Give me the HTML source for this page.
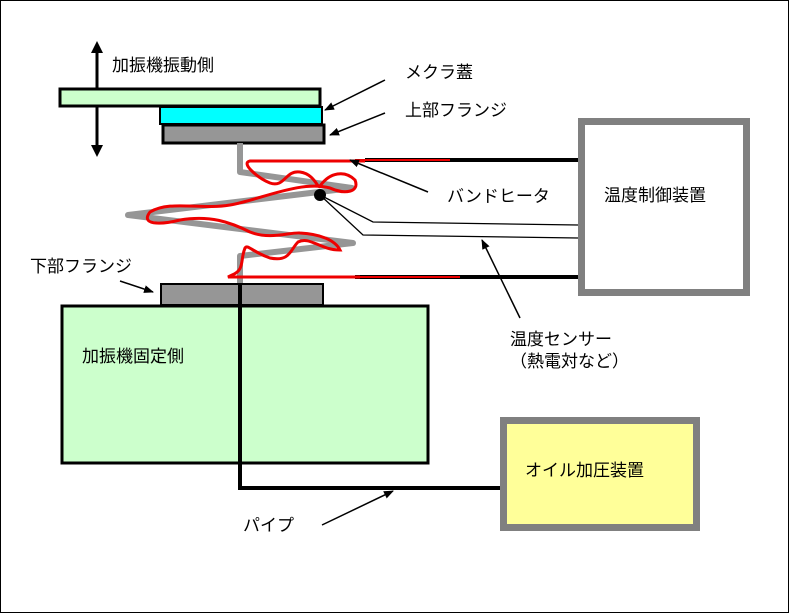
<!DOCTYPE html>
<html><head><meta charset="utf-8"><style>
html,body{margin:0;padding:0;background:#fff}
svg{display:block}
text{font-family:"Liberation Sans","Noto Sans CJK JP",sans-serif;font-size:17px;fill:#000}
</style></head><body>
<svg width="789" height="613" viewBox="0 0 789 613" xmlns="http://www.w3.org/2000/svg">
<defs><marker id="a" markerWidth="10" markerHeight="8" refX="9" refY="4" orient="auto" markerUnits="userSpaceOnUse"><path d="M0,0 L10,4 L0,8 z" fill="#000"/></marker></defs>
<rect x="0.5" y="0.5" width="788" height="612" fill="#fff" stroke="#000"/>
<line x1="97" y1="50" x2="97" y2="148" stroke="#000" stroke-width="3"/>
<path d="M97,41 L91,53 L103,53 z M97,157 L91,145 L103,145 z" fill="#000"/>
<text x="112" y="71">加振機振動側</text>
<rect x="60" y="89" width="260" height="17" fill="#ccffcc" stroke="#000" stroke-width="3"/>
<rect x="160" y="107" width="162" height="17" fill="#00ffff" stroke="#000" stroke-width="2"/>
<rect x="163" y="125" width="161" height="18" fill="#969696" stroke="#000" stroke-width="3"/>
<text x="405" y="78">メクラ蓋</text>
<line x1="385" y1="80" x2="325" y2="110" stroke="#000" stroke-width="1.5" marker-end="url(#a)"/>
<text x="405" y="116">上部フランジ</text>
<line x1="385" y1="113" x2="330" y2="135" stroke="#000" stroke-width="1.5" marker-end="url(#a)"/>
<polyline points="240,143 240,172 352,188 128,215 353,243 240,256 240,285" fill="none" stroke="#969696" stroke-width="6" stroke-linejoin="round"/>
<line x1="365" y1="160" x2="578" y2="160" stroke="#000" stroke-width="4"/>
<line x1="355" y1="277" x2="578" y2="277" stroke="#000" stroke-width="4"/>
<line x1="355" y1="160" x2="450" y2="160" stroke="#e00" stroke-width="2"/>
<line x1="355" y1="277" x2="460" y2="277" stroke="#e00" stroke-width="2"/>
<path d="M365,161 L250,161 C240,163 258,178 270,183 C285,188 285,170 300,172 C315,174 318,190 320,186 C330,172 345,170 355,180 C360,192 345,195 330,188 C300,180 260,200 230,205 C200,210 170,200 150,212 C140,225 160,225 180,220 C210,215 230,222 250,232 C270,240 290,232 300,233 C320,234 335,240 340,250 C320,250 310,236 298,242 C290,250 290,262 270,258 C252,252 248,244 245,248 C240,260 245,270 232,275 L228,277 L360,277" fill="none" stroke="#e00" stroke-width="3"/>
<circle cx="320" cy="195" r="6" fill="#000"/>
<polyline points="320,195 373,222 578,225" fill="none" stroke="#000" stroke-width="1.3"/>
<polyline points="320,195 363,235 578,238" fill="none" stroke="#000" stroke-width="1.3"/>
<text x="447" y="202">バンドヒータ</text>
<line x1="428" y1="192" x2="350" y2="160" stroke="#000" stroke-width="1.5" marker-end="url(#a)"/>
<rect x="581.5" y="121.5" width="165" height="171" fill="#fff" stroke="#808080" stroke-width="7"/>
<text x="604" y="201">温度制御装置</text>
<text x="30" y="272">下部フランジ</text>
<line x1="120" y1="281" x2="153" y2="292" stroke="#000" stroke-width="1.5" marker-end="url(#a)"/>
<rect x="161" y="284" width="162" height="21" fill="#969696" stroke="#000" stroke-width="2"/>
<rect x="62" y="306" width="366" height="157" fill="#ccffcc" stroke="#000" stroke-width="3"/>
<text x="82" y="362">加振機固定側</text>
<polyline points="240,283 240,488 502,488" fill="none" stroke="#000" stroke-width="4"/>
<text x="510" y="345">温度センサー</text>
<text x="510" y="367">（熱電対など）</text>
<line x1="520" y1="318" x2="482" y2="240" stroke="#000" stroke-width="1.5" marker-end="url(#a)"/>
<rect x="503.5" y="420.5" width="193" height="107" fill="#ffff99" stroke="#808080" stroke-width="7"/>
<text x="525" y="476">オイル加圧装置</text>
<text x="243" y="531">パイプ</text>
<line x1="322" y1="525" x2="393" y2="491" stroke="#000" stroke-width="1.5" marker-end="url(#a)"/>
</svg>
</body></html>
